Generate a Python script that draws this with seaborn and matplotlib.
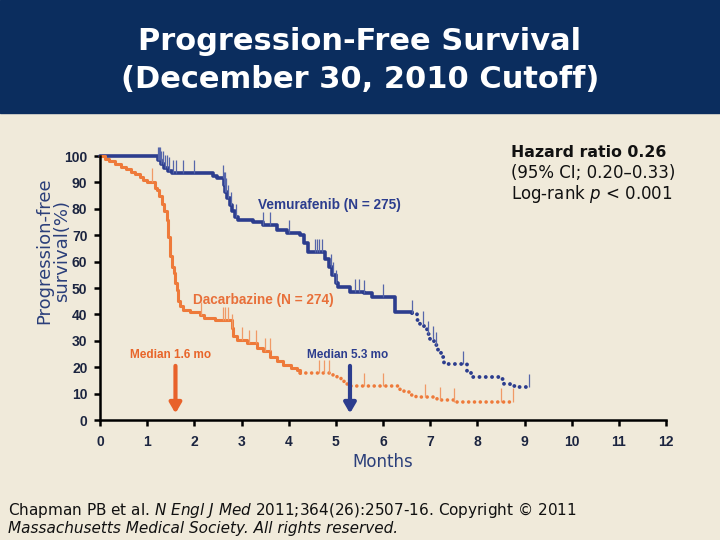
import numpy as np
import matplotlib
matplotlib.use('Agg')
import matplotlib.pyplot as plt
from matplotlib.patches import Rectangle
import seaborn as sns

# ── DATA ─────────────────────────────────────────────────────
# Vemurafenib, solid part then dotted tail (months, % progression-free)
vem_solid_t = [0, 1.24, 1.30, 1.36, 1.44, 1.52, 2.40, 2.48, 2.62, 2.66, 2.70, 2.75, 2.80,
               2.86, 2.93, 3.25, 3.45, 3.75, 3.96, 4.25, 4.32, 4.40, 4.78, 4.85, 4.92,
               5.00, 5.05, 5.31, 5.59, 5.77, 6.26, 6.62]
vem_solid_s = [100, 98.5, 97, 95.5, 94.5, 93.4, 92.5, 91.5, 89, 86.5, 84, 81.5, 79,
               77, 75.8, 75, 73.9, 72, 70.7, 70, 67, 63.7, 61, 58, 55,
               52, 50.5, 48.5, 48, 46.6, 41, 40.5]
vem_dot_t = [6.62, 6.72, 6.79, 6.86, 6.94, 7.00, 7.09, 7.16, 7.22, 7.29, 7.78, 7.86,
             8.46, 8.56, 8.70, 8.85, 9.10]
vem_dot_s = [40.5, 38, 36.2, 34.5, 32.6, 30.7, 28.4, 26.5, 23.9, 21.2, 18.3, 16.3,
             15.4, 13.6, 12.9, 12.4, 12.4]

# Dacarbazine
dac_solid_t = [0, 0.10, 0.20, 0.32, 0.45, 0.55, 0.65, 0.75, 0.85, 0.92, 0.99, 1.16, 1.20,
               1.25, 1.31, 1.36, 1.42, 1.45, 1.49, 1.53, 1.56, 1.60, 1.63, 1.66, 1.70,
               1.77, 1.91, 2.12, 2.20, 2.44, 2.80, 2.83, 2.91, 3.11, 3.33, 3.45, 3.61,
               3.75, 3.89, 4.05, 4.18, 4.25]
dac_solid_s = [100, 99, 98, 97, 96, 95, 94, 93, 92, 91, 90.3, 88, 87,
               85, 82, 79, 75.7, 69.4, 62, 58, 55.6, 52, 49.2, 45, 43,
               41.7, 41, 39.8, 38.5, 37.9, 35, 32, 30.3, 29.1, 27.1, 26, 24,
               22.5, 20.8, 19.8, 18.9, 17.7]
dac_dot_t = [4.25, 4.88, 4.95, 5.02, 5.10, 5.17, 5.30, 6.23, 6.35, 6.45, 6.58, 6.70,
             7.00, 7.15, 7.50, 8.75]
dac_dot_s = [17.7, 17.7, 16.8, 15.8, 14.6, 13.6, 12.9, 12.9, 11.5, 10.5, 9.5, 8.8,
             8.8, 7.6, 7.0, 7.0]

# censored observations
vem_cens = [1.24, 1.26, 1.28, 1.30, 1.33, 1.37, 1.42, 1.47, 1.55, 1.62, 1.75, 2.0,
            2.60, 2.62, 2.64, 2.66, 2.68, 2.72, 2.78, 2.88, 3.45, 3.6, 4.0, 4.55, 4.6,
            4.65, 4.7, 4.9, 4.95, 5.0, 5.4, 5.5, 5.6, 6.0, 6.62, 6.85, 6.95, 7.05,
            7.12, 7.7, 9.1]
dac_cens = [1.10, 2.15, 2.60, 2.66, 2.72, 2.80, 3.0, 3.15, 3.3, 3.5, 3.6, 4.65, 4.75,
            4.85, 5.6, 6.0, 6.9, 7.2, 7.5, 8.5, 8.75]

vem_median = 5.3
dac_median = 1.6

x_ticks = list(range(0, 13))
y_ticks = list(range(0, 101, 10))

# ── STYLE ────────────────────────────────────────────────────
sns.set_style('ticks')
plt.rcParams['font.family'] = ['DejaVu Sans']
BG = '#f0eada'
NAVY = '#0b2d5e'
BLUE = '#2c3d8e'
ORANGE = '#ee7a3a'
TXT = '#1c2540'

fig = plt.figure(figsize=(7.2, 5.4), dpi=100, facecolor=BG)
fig.patches.append(Rectangle((0, 1 - 113 / 540), 1, 113 / 540, transform=fig.transFigure,
                             color=NAVY, zorder=0))
fig.text(0.5, 1 - 50 / 540, 'Progression-Free Survival', color='white', ha='center',
         va='baseline', fontsize=22, fontweight='bold')
fig.text(0.5, 1 - 88 / 540, '(December 30, 2010 Cutoff)', color='white', ha='center',
         va='baseline', fontsize=22, fontweight='bold')

ax = fig.add_axes([100 / 720, 120 / 540, 566 / 720, 264 / 540])
ax.set_facecolor('none')


def step_at(ts, ss, x):
    i = np.searchsorted(ts, x, side='right') - 1
    return np.asarray(ss)[i]


# curves
sns.lineplot(x=vem_solid_t, y=vem_solid_s, ax=ax, color=BLUE, lw=2.6,
             drawstyle='steps-post', estimator=None, sort=False, clip_on=False)
sns.lineplot(x=vem_dot_t, y=vem_dot_s, ax=ax, color=BLUE, lw=2.8,
             drawstyle='steps-post', estimator=None, sort=False,
             linestyle=(0, (0.01, 1.6)), dash_capstyle='round')
sns.lineplot(x=dac_solid_t, y=dac_solid_s, ax=ax, color=ORANGE, lw=2.2,
             drawstyle='steps-post', estimator=None, sort=False, clip_on=False)
sns.lineplot(x=dac_dot_t, y=dac_dot_s, ax=ax, color=ORANGE, lw=2.6,
             drawstyle='steps-post', estimator=None, sort=False,
             linestyle=(0, (0.01, 1.6)), dash_capstyle='round')

# censor marks
all_vt = vem_solid_t + vem_dot_t[1:]
all_vs = vem_solid_s + vem_dot_s[1:]
yv = step_at(all_vt, all_vs, vem_cens)
ax.vlines(vem_cens, yv, yv + 5, color='#5666aa', lw=0.9, clip_on=False)
all_dt = dac_solid_t + dac_dot_t[1:]
all_ds = dac_solid_s + dac_dot_s[1:]
yd = step_at(all_dt, all_ds, dac_cens)
ax.vlines(dac_cens, yd, yd + 5, color='#f09a66', lw=0.9, clip_on=False)

# medians
ax.annotate('', xy=(dac_median, 2.5), xytext=(dac_median, 20.5),
            arrowprops=dict(arrowstyle='-|>,head_width=0.35,head_length=0.6',
                            color='#e8622a', lw=3, shrinkA=0, shrinkB=0))
ax.annotate('', xy=(vem_median, 2.5), xytext=(vem_median, 20.5),
            arrowprops=dict(arrowstyle='-|>,head_width=0.35,head_length=0.6',
                            color=BLUE, lw=3, shrinkA=0, shrinkB=0))
ax.text(1.49, 24.6, f'Median {dac_median} mo', color='#e8652a', ha='center', va='center',
        fontsize=8.5, fontweight='bold', family='Liberation Sans')
ax.text(5.24, 24.6, f'Median {vem_median} mo', color=BLUE, ha='center', va='center',
        fontsize=8.5, fontweight='bold', family='Liberation Sans')

ax.text(3.36, 81.4, 'Vemurafenib (N = 275)', color=BLUE, ha='left', va='center',
        fontsize=9.8, fontweight='bold', family='Liberation Sans')
ax.text(1.97, 45.5, 'Dacarbazine (N = 274)', color='#e8703a', ha='left', va='center',
        fontsize=9.8, fontweight='bold', family='Liberation Sans')

# axes
ax.set_xlim(0, 12)
ax.set_ylim(0, 100)
ax.set_xticks(x_ticks)
ax.set_yticks(y_ticks)
for s in ['top', 'right']:
    ax.spines[s].set_visible(False)
for s in ['left', 'bottom']:
    ax.spines[s].set_linewidth(1.8)
    ax.spines[s].set_color('black')
ax.tick_params(axis='both', length=4, width=1.8, colors='black', labelcolor=TXT)
ax.tick_params(axis='x', pad=7)
ax.tick_params(axis='y', pad=5)
for lab in ax.get_xticklabels() + ax.get_yticklabels():
    lab.set_fontfamily('Liberation Sans')
    lab.set_fontweight('bold')
    lab.set_fontsize(10)

fig.text(383 / 720, 1 - 462 / 540, 'Months', color='#2b3f7a', ha='center', va='center',
         fontsize=12)
fig.text(53 / 720, 1 - 251 / 540, 'Progression-free\nsurvival(%)', color='#2b3f7a',
         ha='center', va='center', rotation=90, fontsize=13, linespacing=0.95)

# stats box
fig.text(511 / 720, 1 - 157 / 540, 'Hazard ratio 0.26', color='#111111', ha='left',
         va='baseline', fontsize=11.3, fontweight='bold')
fig.text(511 / 720, 1 - 178 / 540, '(95% CI; 0.20\u20130.33)', color='#111111', ha='left',
         va='baseline', fontsize=12)
fig.text(511 / 720, 1 - 199 / 540, 'Log-rank $\\it{p}$ < 0.001', color='#111111', ha='left',
         va='baseline', fontsize=12)

# source
fig.text(8 / 720, 1 - 515 / 540,
         'Chapman PB et al. $\\it{N\\ Engl\\ J\\ Med}$ 2011;364(26):2507-16. Copyright \u00a9 2011',
         color='#111111', ha='left', va='baseline', fontsize=11)
fig.text(8 / 720, 1 - 533 / 540, 'Massachusetts Medical Society. All rights reserved.',
         color='#111111', ha='left', va='baseline', fontsize=11, style='italic')

fig.savefig('out.png', dpi=100, facecolor=BG)
